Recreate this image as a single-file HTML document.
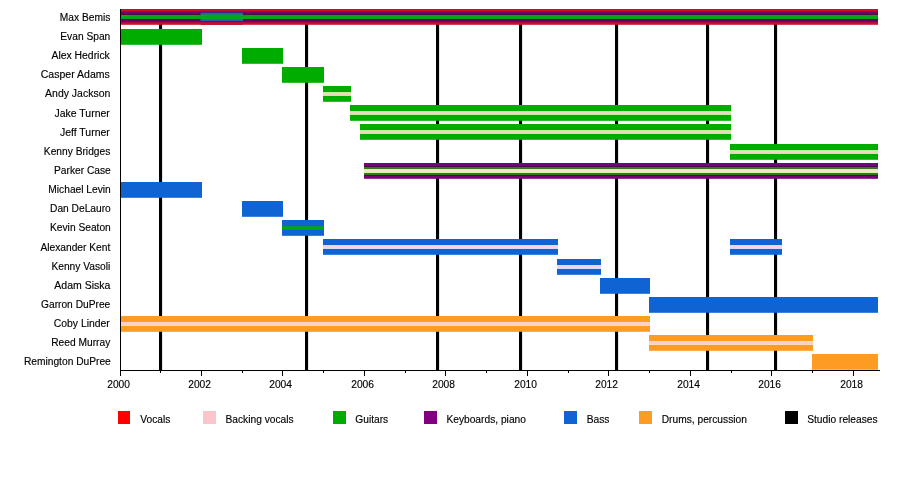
<!DOCTYPE html>
<html><head><meta charset="utf-8"><title>Timeline</title>
<style>
html,body{margin:0;padding:0;background:#fff;}
body{width:900px;height:489px;overflow:hidden;position:relative;font-family:"Liberation Sans",sans-serif;}
svg{will-change:transform;position:absolute;left:0;top:0;display:block;}
text{font-family:"Liberation Sans",sans-serif;font-size:11px;fill:#000;stroke:#000;stroke-width:0.15px;}
</style></head><body>
<svg width="900" height="489" viewBox="0 0 900 489">
<rect x="0" y="0" width="900" height="489" fill="#fff"/>
<rect x="159" y="9" width="3.1" height="361" fill="#000"/>
<rect x="305" y="9" width="3.1" height="361" fill="#000"/>
<rect x="436" y="9" width="3.1" height="361" fill="#000"/>
<rect x="519" y="9" width="3.1" height="361" fill="#000"/>
<rect x="615" y="9" width="3.1" height="361" fill="#000"/>
<rect x="706" y="9" width="3.1" height="361" fill="#000"/>
<rect x="774" y="9" width="3.1" height="361" fill="#000"/>
<defs><linearGradient id="gp" x1="0" y1="0" x2="0" y2="1"><stop offset="0.0000" stop-color="rgb(200, 15, 42)"/><stop offset="0.1329" stop-color="rgb(200, 15, 42)"/><stop offset="0.1899" stop-color="rgb(115, 0, 112)"/><stop offset="0.3165" stop-color="rgb(105, 0, 105)"/><stop offset="0.3608" stop-color="rgb(55, 25, 55)"/><stop offset="0.3924" stop-color="rgb(0, 168, 18)"/><stop offset="0.6076" stop-color="rgb(0, 168, 18)"/><stop offset="0.6392" stop-color="rgb(55, 25, 55)"/><stop offset="0.6835" stop-color="rgb(105, 0, 105)"/><stop offset="0.8101" stop-color="rgb(115, 0, 112)"/><stop offset="0.8671" stop-color="rgb(200, 15, 42)"/><stop offset="1.0000" stop-color="rgb(200, 15, 42)"/></linearGradient><linearGradient id="gb" x1="0" y1="0" x2="0" y2="1"><stop offset="0.0000" stop-color="rgb(195, 15, 42)"/><stop offset="0.1329" stop-color="rgb(195, 15, 42)"/><stop offset="0.1899" stop-color="rgb(85, 10, 120)"/><stop offset="0.2342" stop-color="rgb(65, 45, 155)"/><stop offset="0.2722" stop-color="rgb(55, 85, 185)"/><stop offset="0.3291" stop-color="rgb(35, 110, 150)"/><stop offset="0.3734" stop-color="rgb(0, 166, 30)"/><stop offset="0.6266" stop-color="rgb(0, 166, 30)"/><stop offset="0.6709" stop-color="rgb(35, 110, 150)"/><stop offset="0.7278" stop-color="rgb(55, 85, 185)"/><stop offset="0.7658" stop-color="rgb(65, 45, 155)"/><stop offset="0.8101" stop-color="rgb(85, 10, 120)"/><stop offset="0.8671" stop-color="rgb(195, 15, 42)"/><stop offset="1.0000" stop-color="rgb(195, 15, 42)"/></linearGradient><linearGradient id="gc" x1="0" y1="0" x2="0" y2="1"><stop offset="0.0000" stop-color="rgb(120, 0, 120)"/><stop offset="0.1962" stop-color="rgb(120, 0, 120)"/><stop offset="0.2278" stop-color="rgb(50, 20, 55)"/><stop offset="0.2595" stop-color="rgb(48, 122, 28)"/><stop offset="0.3608" stop-color="rgb(48, 122, 28)"/><stop offset="0.3861" stop-color="rgb(205, 250, 155)"/><stop offset="0.4367" stop-color="rgb(205, 250, 155)"/><stop offset="0.4620" stop-color="rgb(248, 226, 205)"/><stop offset="0.5506" stop-color="rgb(248, 226, 205)"/><stop offset="0.5759" stop-color="rgb(205, 250, 155)"/><stop offset="0.6266" stop-color="rgb(205, 250, 155)"/><stop offset="0.6519" stop-color="rgb(48, 122, 28)"/><stop offset="0.7532" stop-color="rgb(48, 122, 28)"/><stop offset="0.7848" stop-color="rgb(50, 20, 55)"/><stop offset="0.8165" stop-color="rgb(120, 0, 120)"/><stop offset="1.0000" stop-color="rgb(120, 0, 120)"/></linearGradient><linearGradient id="sg" x1="0" y1="0" x2="0" y2="1"><stop offset="0.0000" stop-color="rgb(0, 172, 0)"/><stop offset="0.3639" stop-color="rgb(0, 172, 0)"/><stop offset="0.3892" stop-color="rgb(190, 240, 150)"/><stop offset="0.4335" stop-color="rgb(190, 240, 150)"/><stop offset="0.4620" stop-color="rgb(242, 213, 196)"/><stop offset="0.5506" stop-color="rgb(242, 213, 196)"/><stop offset="0.5791" stop-color="rgb(190, 240, 150)"/><stop offset="0.6234" stop-color="rgb(190, 240, 150)"/><stop offset="0.6487" stop-color="rgb(0, 172, 0)"/><stop offset="1.0000" stop-color="rgb(0, 172, 0)"/></linearGradient><linearGradient id="sb" x1="0" y1="0" x2="0" y2="1"><stop offset="0.0000" stop-color="rgb(15, 99, 210)"/><stop offset="0.3639" stop-color="rgb(15, 99, 210)"/><stop offset="0.3892" stop-color="rgb(212, 220, 250)"/><stop offset="0.4335" stop-color="rgb(212, 220, 250)"/><stop offset="0.4620" stop-color="rgb(248, 210, 220)"/><stop offset="0.5506" stop-color="rgb(248, 210, 220)"/><stop offset="0.5791" stop-color="rgb(212, 220, 250)"/><stop offset="0.6234" stop-color="rgb(212, 220, 250)"/><stop offset="0.6487" stop-color="rgb(15, 99, 210)"/><stop offset="1.0000" stop-color="rgb(15, 99, 210)"/></linearGradient><linearGradient id="so" x1="0" y1="0" x2="0" y2="1"><stop offset="0.0000" stop-color="rgb(252, 156, 35)"/><stop offset="0.3639" stop-color="rgb(252, 156, 35)"/><stop offset="0.3892" stop-color="rgb(255, 215, 190)"/><stop offset="0.4335" stop-color="rgb(255, 215, 190)"/><stop offset="0.4620" stop-color="rgb(254, 205, 208)"/><stop offset="0.5506" stop-color="rgb(254, 205, 208)"/><stop offset="0.5791" stop-color="rgb(255, 215, 190)"/><stop offset="0.6234" stop-color="rgb(255, 215, 190)"/><stop offset="0.6487" stop-color="rgb(252, 156, 35)"/><stop offset="1.0000" stop-color="rgb(252, 156, 35)"/></linearGradient><linearGradient id="sbg" x1="0" y1="0" x2="0" y2="1"><stop offset="0.0000" stop-color="rgb(15, 99, 210)"/><stop offset="0.3639" stop-color="rgb(15, 99, 210)"/><stop offset="0.3892" stop-color="rgb(5, 150, 70)"/><stop offset="0.4335" stop-color="rgb(5, 150, 70)"/><stop offset="0.4620" stop-color="rgb(0, 172, 0)"/><stop offset="0.5506" stop-color="rgb(0, 172, 0)"/><stop offset="0.5791" stop-color="rgb(5, 150, 70)"/><stop offset="0.6234" stop-color="rgb(5, 150, 70)"/><stop offset="0.6487" stop-color="rgb(15, 99, 210)"/><stop offset="1.0000" stop-color="rgb(15, 99, 210)"/></linearGradient></defs>
<rect x="120" y="29" width="82" height="15.8" fill="#00ac00"/>
<rect x="242" y="48" width="41" height="15.8" fill="#00ac00"/>
<rect x="282" y="67" width="42" height="15.8" fill="#00ac00"/>
<rect x="323" y="86" width="28" height="15.8" fill="url(#sg)"/>
<rect x="350" y="105" width="381" height="15.8" fill="url(#sg)"/>
<rect x="360" y="124" width="371" height="15.8" fill="url(#sg)"/>
<rect x="730" y="144" width="148.0" height="15.8" fill="url(#sg)"/>
<rect x="120" y="182" width="82" height="15.8" fill="#0f63d2"/>
<rect x="242" y="201" width="41" height="15.8" fill="#0f63d2"/>
<rect x="282" y="220" width="42" height="15.8" fill="url(#sbg)"/>
<rect x="323" y="239" width="235" height="15.8" fill="url(#sb)"/>
<rect x="730" y="239" width="52" height="15.8" fill="url(#sb)"/>
<rect x="557" y="259" width="44" height="15.8" fill="url(#sb)"/>
<rect x="600" y="278" width="50" height="15.8" fill="#0f63d2"/>
<rect x="649" y="297" width="229.0" height="15.8" fill="#0f63d2"/>
<rect x="120" y="316" width="530" height="15.8" fill="url(#so)"/>
<rect x="649" y="335" width="164" height="15.8" fill="url(#so)"/>
<rect x="812" y="354" width="66.0" height="15.8" fill="#fc9c23"/>
<rect x="120" y="9" width="758.0" height="15.8" fill="url(#gp)"/>
<rect x="200.5" y="9" width="42.5" height="15.8" fill="url(#gb)"/>
<rect x="364" y="163" width="514.0" height="15.8" fill="url(#gc)"/>
<rect x="120" y="9" width="1" height="362" fill="#000"/>
<rect x="120" y="370" width="760" height="1" fill="#000"/>
<rect x="120" y="370" width="1" height="6" fill="#000"/>
<text transform="translate(118.60,388) scale(0.93,1)" text-anchor="middle">2000</text>
<rect x="160" y="370" width="1" height="3" fill="#000"/>
<rect x="201" y="370" width="1" height="6" fill="#000"/>
<text transform="translate(199.60,388) scale(0.93,1)" text-anchor="middle">2002</text>
<rect x="242" y="370" width="1" height="3" fill="#000"/>
<rect x="282" y="370" width="1" height="6" fill="#000"/>
<text transform="translate(280.60,388) scale(0.93,1)" text-anchor="middle">2004</text>
<rect x="323" y="370" width="1" height="3" fill="#000"/>
<rect x="364" y="370" width="1" height="6" fill="#000"/>
<text transform="translate(362.60,388) scale(0.93,1)" text-anchor="middle">2006</text>
<rect x="405" y="370" width="1" height="3" fill="#000"/>
<rect x="445" y="370" width="1" height="6" fill="#000"/>
<text transform="translate(443.60,388) scale(0.93,1)" text-anchor="middle">2008</text>
<rect x="486" y="370" width="1" height="3" fill="#000"/>
<rect x="527" y="370" width="1" height="6" fill="#000"/>
<text transform="translate(525.60,388) scale(0.93,1)" text-anchor="middle">2010</text>
<rect x="568" y="370" width="1" height="3" fill="#000"/>
<rect x="608" y="370" width="1" height="6" fill="#000"/>
<text transform="translate(606.60,388) scale(0.93,1)" text-anchor="middle">2012</text>
<rect x="649" y="370" width="1" height="3" fill="#000"/>
<rect x="690" y="370" width="1" height="6" fill="#000"/>
<text transform="translate(688.60,388) scale(0.93,1)" text-anchor="middle">2014</text>
<rect x="731" y="370" width="1" height="3" fill="#000"/>
<rect x="771" y="370" width="1" height="6" fill="#000"/>
<text transform="translate(769.60,388) scale(0.93,1)" text-anchor="middle">2016</text>
<rect x="812" y="370" width="1" height="3" fill="#000"/>
<rect x="853" y="370" width="1" height="6" fill="#000"/>
<text transform="translate(851.60,388) scale(0.93,1)" text-anchor="middle">2018</text>
<text transform="translate(110.3,20.85) scale(0.9300,1)" text-anchor="end">Max Bemis</text>
<text transform="translate(110.3,39.99) scale(0.9300,1)" text-anchor="end">Evan Span</text>
<text transform="translate(109.8,59.13) scale(0.9463,1)" text-anchor="end">Alex Hedrick</text>
<text transform="translate(109.8,78.27) scale(0.9582,1)" text-anchor="end">Casper Adams</text>
<text transform="translate(110.3,97.41) scale(0.9536,1)" text-anchor="end">Andy Jackson</text>
<text transform="translate(109.8,116.55) scale(0.9528,1)" text-anchor="end">Jake Turner</text>
<text transform="translate(109.8,135.69) scale(0.9533,1)" text-anchor="end">Jeff Turner</text>
<text transform="translate(110.3,154.83) scale(0.9300,1)" text-anchor="end">Kenny Bridges</text>
<text transform="translate(110.8,173.97) scale(0.9300,1)" text-anchor="end">Parker Case</text>
<text transform="translate(110.8,193.11) scale(0.9300,1)" text-anchor="end">Michael Levin</text>
<text transform="translate(110.8,212.25) scale(0.9300,1)" text-anchor="end">Dan DeLauro</text>
<text transform="translate(110.8,231.39) scale(0.9300,1)" text-anchor="end">Kevin Seaton</text>
<text transform="translate(110.3,250.53) scale(0.9300,1)" text-anchor="end">Alexander Kent</text>
<text transform="translate(110.3,269.67) scale(0.9300,1)" text-anchor="end">Kenny Vasoli</text>
<text transform="translate(110.3,288.81) scale(0.9541,1)" text-anchor="end">Adam Siska</text>
<text transform="translate(110.3,307.95) scale(0.9300,1)" text-anchor="end">Garron DuPree</text>
<text transform="translate(109.8,327.09) scale(0.9455,1)" text-anchor="end">Coby Linder</text>
<text transform="translate(110.3,346.23) scale(0.9300,1)" text-anchor="end">Reed Murray</text>
<text transform="translate(110.8,365.37) scale(0.9300,1)" text-anchor="end">Remington DuPree</text>
<rect x="118" y="411" width="12" height="13" fill="#ff0000"/>
<text transform="translate(140.3,423) scale(0.93,1)">Vocals</text>
<rect x="203" y="411" width="13" height="13" fill="#fbc6cb"/>
<text transform="translate(225.5,423) scale(0.93,1)">Backing vocals</text>
<rect x="333" y="411" width="13" height="13" fill="#00ac00"/>
<text transform="translate(355.3,423) scale(0.93,1)">Guitars</text>
<rect x="424" y="411" width="13" height="13" fill="#800080"/>
<text transform="translate(446.4,423) scale(0.93,1)">Keyboards, piano</text>
<rect x="564" y="411" width="13" height="13" fill="#0f63d2"/>
<text transform="translate(586.7,423) scale(0.93,1)">Bass</text>
<rect x="639" y="411" width="13" height="13" fill="#fc9c23"/>
<text transform="translate(661.7,423) scale(0.93,1)">Drums, percussion</text>
<rect x="785" y="411" width="13" height="13" fill="#000"/>
<text transform="translate(807.2,423) scale(0.93,1)">Studio releases</text>
</svg></body></html>
